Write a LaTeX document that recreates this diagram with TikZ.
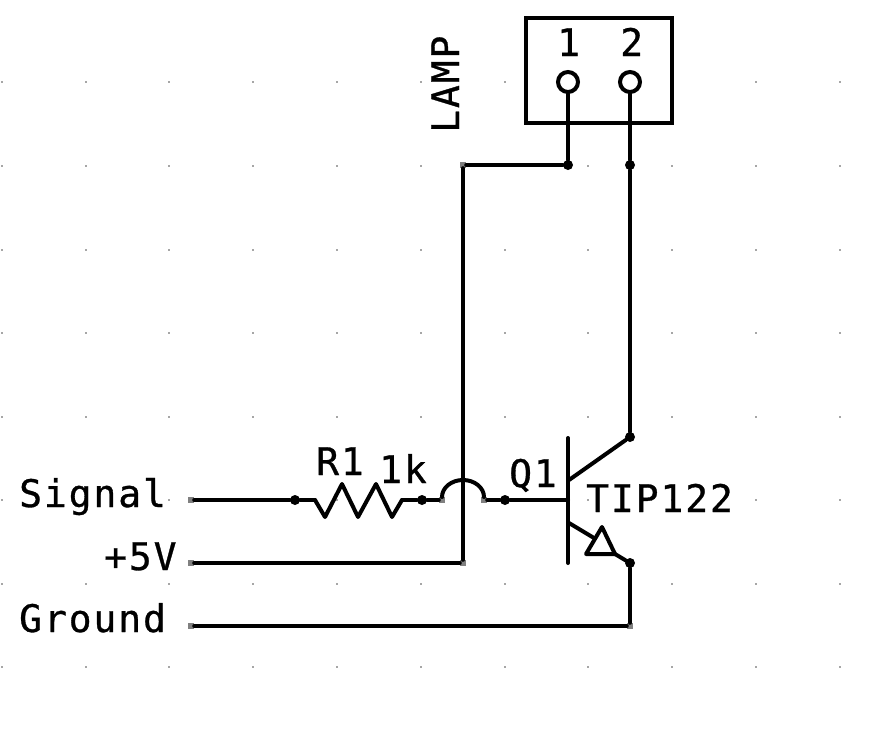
\documentclass[tikz,border=0pt]{standalone}
\usepackage{fontspec}
\newfontfamily\schfont[LetterSpace=5,FakeBold=0.8]{DejaVu Sans Mono}
\tikzset{
  wire/.style={line width=4pt,black,line cap=round,line join=round},
  dotj/.style={circle,fill=black,draw=none,inner sep=0pt,minimum size=10pt},
  endp/.style={rectangle,fill=black!50,draw=none,inner sep=0pt,minimum size=6pt},
  pin/.style={circle,draw=black,line width=4pt,fill=white,inner sep=0pt,minimum size=20pt},
  lbl/.style={inner sep=0pt,anchor=base west,font=\schfont\fontsize{38}{38}\selectfont,text=black},
  gridmark/.style={fill=black!35,draw=none}
}
\begin{document}
\begin{tikzpicture}[x=1pt,y=-1pt]
\useasboundingbox (0,0) rectangle (878,737);
\fill[white] (0,0) rectangle (878,737);
\foreach \gx in {2,86,169,253,337,421,505,588,672,756,840}
  \foreach \gy in {82,166,250,333,417,500,584,667}
    \fill[gridmark] (\gx-0.8,\gy-0.8) rectangle (\gx+0.8,\gy+0.8);
% lamp box
\node[draw=black,line width=4pt,fill=white,inner sep=0pt,minimum width=146pt,minimum height=105pt] (lamp) at (599,70.5) {};
\node[pin] (pinA) at (568,82) {};
\node[pin] (pinB) at (630,82) {};
% junctions
\node[dotj] (jA) at (568,165) {};
\node[dotj] (jB) at (630,165) {};
\node[dotj] (jC) at (630,437) {};
\node[dotj] (jE) at (630,563) {};
\node[dotj] (jR1) at (295,500) {};
\node[dotj] (jR2) at (422,500) {};
\node[dotj] (jQ) at (505,500) {};
% end points
\node[endp] (corner) at (463,165) {};
\node[endp] (sigEnd) at (191,500) {};
\node[endp] (fiveEnd) at (191,563) {};
\node[endp] (gndEnd) at (191,626) {};
\node[endp] (fiveCorner) at (463,563) {};
\node[endp] (gndCorner) at (630,626) {};
\node[endp] (hopL) at (442,500) {};
\node[endp] (hopR) at (484,500) {};
% free coordinates
\coordinate (rL) at (315,500);
\coordinate (rR) at (402,500);
\coordinate (barT) at (568,438);
\coordinate (barB) at (568,563);
\coordinate (barQ) at (568,500);
\coordinate (barC) at (569,480);
\coordinate (barE) at (569,523);
\coordinate (triA) at (602,527);
\coordinate (triL) at (586,554);
\coordinate (triR) at (615,554);
\coordinate (triE) at (594,538);
% wires
\draw[wire] (pinA) -- (jA);
\draw[wire] (pinB) -- (jB);
\draw[wire] (jB) -- (jC);
\draw[wire] (jA) -- (corner);
\draw[wire] (corner) -- (fiveCorner);
\draw[wire] (fiveEnd) -- (fiveCorner);
\draw[wire] (sigEnd) -- (jR1);
\draw[wire] (jR1) -- (rL);
\draw[wire] (rL) -- (325,517) -- (342,484) -- (358,517) -- (376,484) -- (392,517) -- (rR);
\draw[wire] (rR) -- (jR2);
\draw[wire] (jR2) -- (hopL);
\draw[wire] (442,497) arc[start angle=180,end angle=360,x radius=21,y radius=17];
\draw[wire] (hopR) -- (jQ);
\draw[wire] (jQ) -- (barQ);
\draw[wire] (barT) -- (barB);
\draw[wire] (barC) -- (jC);
\draw[wire] (barE) -- (triE);
\draw[wire] (triA) -- (triL) -- (triR) -- cycle;
\draw[wire] (triR) -- (jE);
\draw[wire] (jE) -- (gndCorner);
\draw[wire] (gndEnd) -- (gndCorner);
% labels
\node[lbl] (tSignal) at (19,507) {Signal};
\node[lbl] (tFive) at (104,570) {+5V};
\node[lbl] (tGround) at (19,632) {Ground};
\node[lbl] (tR) at (316,475) {R1};
\node[lbl] (tk) at (379,483) {1k};
\node[lbl] (tQ) at (509,487) {Q1};
\node[lbl] (tTip) at (586,512) {TIP122};
\node[lbl] (tOne) at (557,56) {1};
\node[lbl] (tTwo) at (620,56) {2};
\node[lbl,rotate=90] (tLamp) at (459,133) {LAMP};
\end{tikzpicture}
\end{document}
